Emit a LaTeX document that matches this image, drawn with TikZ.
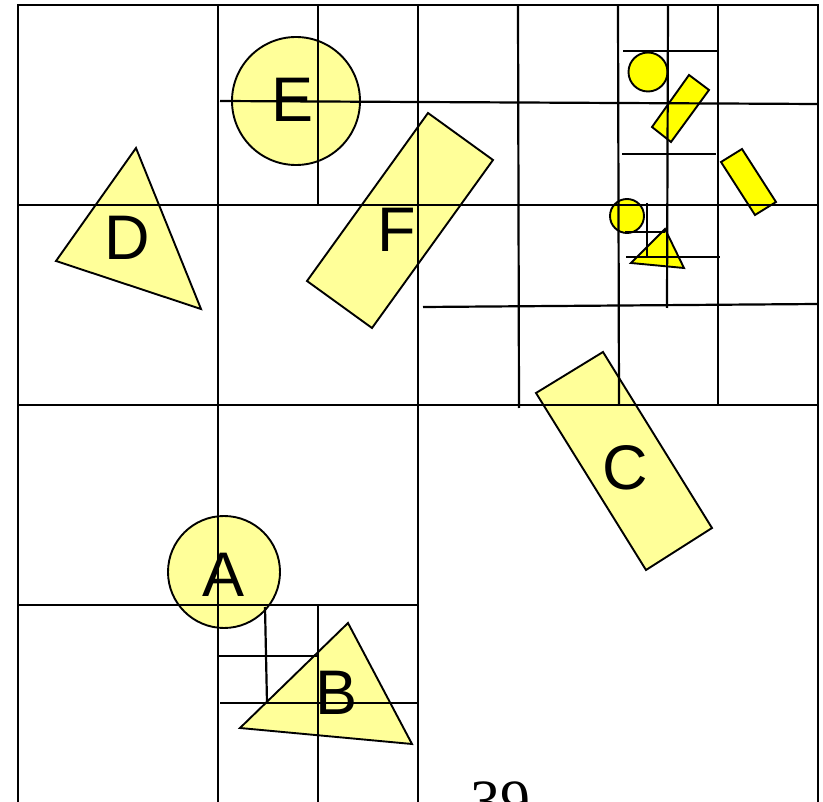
\documentclass[tikz,border=0pt]{standalone}
\usepackage{fontspec}
\setmainfont{Liberation Serif}
\setsansfont{Liberation Sans}
\definecolor{paleyellow}{HTML}{FFFF99}
\definecolor{brightyellow}{HTML}{FFFF00}
\begin{document}
\begin{tikzpicture}[
    x=1pt, y=-1pt,
    cell/.style={draw=black, line width=2.6pt},
    split/.style={draw=black, line width=2.2pt},
    obj/.style={draw=black, line width=1.9pt, fill=paleyellow},
    tiny/.style={draw=black, line width=1.9pt, fill=brightyellow},
    lbl/.style={font=\sffamily\fontsize{63}{63}\selectfont, inner sep=0pt}
]
    \useasboundingbox (0,0) rectangle (823,802);

    % objects
    \draw[obj] (296,101) circle (64);
    \draw[obj] (428,113) -- (493,160) -- (372,328) -- (307,281) -- cycle;
    \draw[obj] (136,148) -- (201,309) -- (56,261) -- cycle;
    \draw[obj] (603,352) -- (712,528) -- (646,570) -- (536,393) -- cycle;
    \draw[obj] (224,572) circle (56);
    \draw[obj] (348,623) -- (412,744) -- (240,728) -- cycle;

    % small objects
    \draw[tiny] (648,72) circle (19.5);
    \draw[tiny] (689,75) -- (709,90) -- (671,142) -- (652,127) -- cycle;
    \draw[tiny] (742,149) -- (776,202) -- (755,215) -- (721,162) -- cycle;
    \draw[tiny] (627,216) circle (17);
    \draw[tiny] (665,229) -- (684,268) -- (631,263) -- cycle;

    % quadtree cells
    \draw[cell] (18,5) rectangle (818,805);
    \foreach \x in {218,418}
        \draw[cell] (\x,5) -- (\x,805);
    \foreach \y in {205,405}
        \draw[cell] (18,\y) -- (818,\y);

    % finer splits
    \draw[split] (318,5) -- (318,205);
    \draw[split] (220,101) -- (818,104);
    \draw[split] (423,307) -- (818,304);
    \draw[split] (518,5) -- (519,408);
    \draw[split] (618,5) -- (619,405);
    \draw[split] (718,5) -- (718,406);
    \draw[split] (668,5) -- (667,308);
    \draw[split] (623,51) -- (717,51);
    \draw[split] (622,154) -- (716,154);
    \draw[split] (626,257) -- (720,257);
    \draw[split] (647,203) -- (647,257);
    \draw[split] (625,232) -- (665,232);
    \draw[split] (18,605) -- (418,605);
    \draw[split] (318,605) -- (318,805);
    \draw[split] (218,656) -- (318,656);
    \draw[split] (220,703) -- (418,703);
    \draw[split] (265,607) -- (267,703);

    % labels
    \node[lbl] (labE) at (293,100) {E};
    \node[lbl] (labF) at (397,230) {F};
    \node[lbl] (labD) at (127,238) {D};
    \node[lbl] (labC) at (625,468) {C};
    \node[lbl] (labA) at (224,575) {A};
    \node[lbl] (labB) at (337,693) {B};
    \node[font=\fontsize{60}{60}\selectfont, inner sep=0pt, anchor=base] (page) at (500,821) {39};
\end{tikzpicture}
\end{document}
